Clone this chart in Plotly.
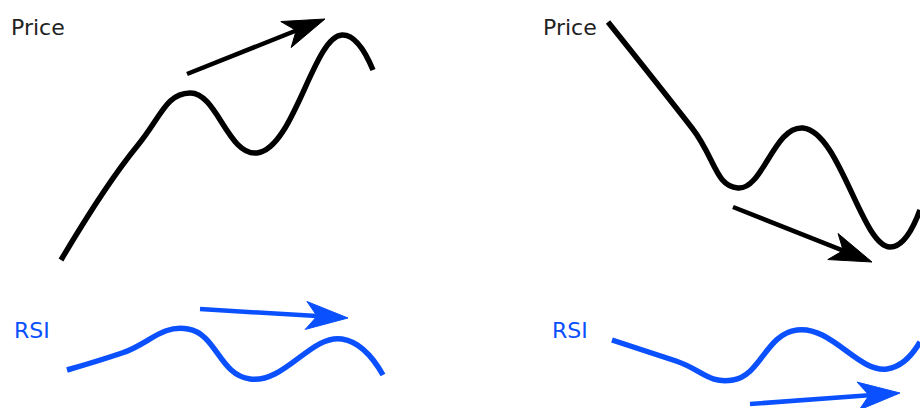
import math
import plotly.graph_objects as go

# ---- data (canvas units, y grows downward) ----
left_price_x = [61, 138, 190, 257, 342, 373]
left_price_y = [260, 145, 93, 153, 35, 70]

right_price_x = [608, 692, 738, 803, 890, 920]
right_price_y = [22, 128, 188, 128, 247, 210]

left_rsi_x = [67, 122, 188, 250, 342, 383]
left_rsi_y = [370, 353, 329, 379, 339, 375]

right_rsi_x = [612, 676, 733, 797, 887, 920]
right_rsi_y = [340, 361, 380, 330, 369, 342]

# arrows: (x_start, y_start, x_tip, y_tip)
arrow_left_price = (187, 74, 325, 19)
arrow_right_price = (733, 207, 872, 262)
arrow_left_rsi = (200, 309, 348, 318)
arrow_right_rsi = (750, 404, 900, 393)

labels = ["Price", "RSI"]
label_x = [9, 541]
label_rsi_x = [12, 550]

BLACK = "#000000"
BLUE = "#0a50ff"

fig = go.Figure()


def curve(xs, ys, color):
    fig.add_trace(go.Scatter(x=xs, y=ys, mode="lines",
                             line=dict(color=color, width=5.5, shape="spline", smoothing=1.3),
                             hoverinfo="skip", showlegend=False))


def arrow(a, color, L=42, W=14, notch=11):
    x0, y0, x1, y1 = a
    dx, dy = x1 - x0, y1 - y0
    d = math.hypot(dx, dy)
    ux, uy = dx / d, dy / d
    nx, ny = -uy, ux
    bx, by = x1 - L * ux, y1 - L * uy
    mx, my = x1 - (L - notch) * ux, y1 - (L - notch) * uy
    fig.add_trace(go.Scatter(x=[x0, mx], y=[y0, my], mode="lines",
                             line=dict(color=color, width=4.5),
                             hoverinfo="skip", showlegend=False))
    hx = [x1, bx + W * nx, mx, bx - W * nx, x1]
    hy = [y1, by + W * ny, my, by - W * ny, y1]
    fig.add_trace(go.Scatter(x=hx, y=hy, mode="lines", fill="toself",
                             fillcolor=color, line=dict(color=color, width=1),
                             hoverinfo="skip", showlegend=False))


curve(left_price_x, left_price_y, BLACK)
curve(right_price_x, right_price_y, BLACK)
curve(left_rsi_x, left_rsi_y, BLUE)
curve(right_rsi_x, right_rsi_y, BLUE)

arrow(arrow_left_price, BLACK)
arrow(arrow_right_price, BLACK)
arrow(arrow_left_rsi, BLUE)
arrow(arrow_right_rsi, BLUE)

for lx, rx in zip(label_x, label_rsi_x):
    fig.add_annotation(x=lx, y=27, text=labels[0], showarrow=False,
                       xanchor="left", yanchor="middle",
                       font=dict(family="DejaVu Sans", size=22, color="#222222"))
    fig.add_annotation(x=rx, y=330, text=labels[1], showarrow=False,
                       xanchor="left", yanchor="middle",
                       font=dict(family="DejaVu Sans", size=22, color=BLUE))

fig.update_layout(
    width=920, height=408, autosize=False,
    margin=dict(l=0, r=0, t=0, b=0),
    paper_bgcolor="white", plot_bgcolor="white",
    hovermode=False,
    xaxis=dict(range=[0, 920], visible=False, fixedrange=True),
    yaxis=dict(range=[408, 0], visible=False, fixedrange=True),
)

fig.write_html("out.html", config={"displayModeBar": False, "staticPlot": True},
               post_script="document.body.style.margin='0px';document.body.style.overflow='hidden';")
